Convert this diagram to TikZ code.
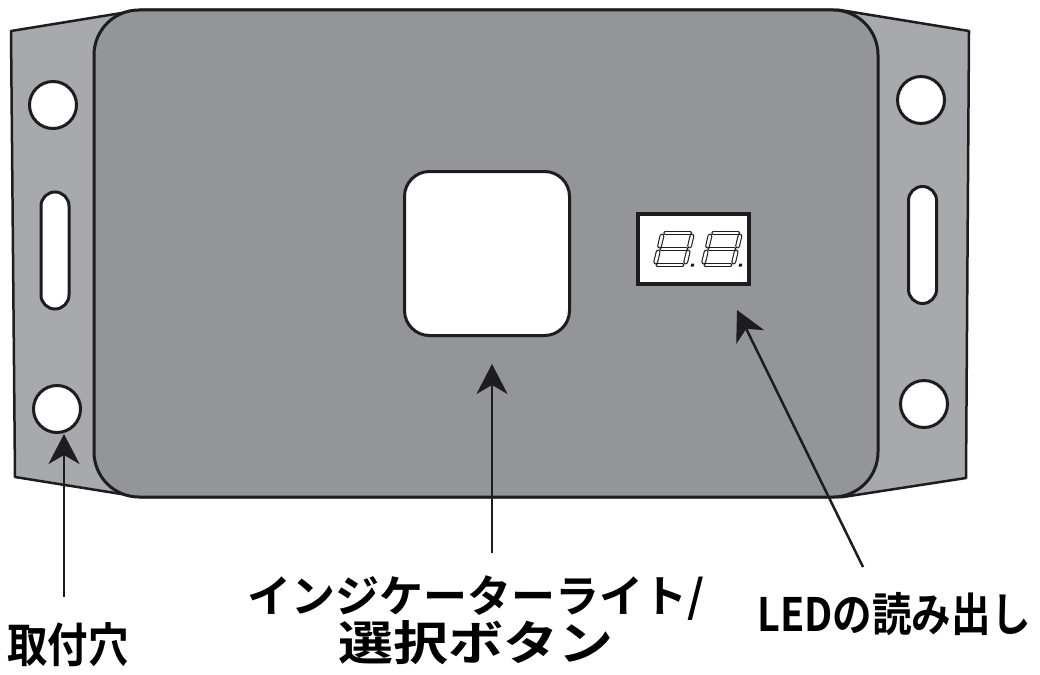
\documentclass[tikz,border=0pt]{standalone}
\usepackage{fontspec}
\newfontfamily\jpfont{Noto Sans CJK JP Bold}
\usetikzlibrary{arrows.meta}
\definecolor{bodygray}{RGB}{147,149,152}
\definecolor{flangegray}{RGB}{167,169,172}
\definecolor{inkline}{RGB}{30,28,30}
\begin{document}
\begin{tikzpicture}[x=1pt,y=-1pt,
  flange/.style={fill=flangegray, draw=inkline, line width=2.5pt, line join=round},
  housing/.style={fill=bodygray, draw=inkline, line width=3pt, rounded corners=45pt,
    minimum width=784pt, minimum height=487pt, inner sep=0pt},
  hole/.style={circle, fill=white, draw=inkline, line width=3pt, minimum size=47pt, inner sep=0pt},
  slot/.style={fill=white, draw=inkline, line width=3pt, rounded corners=14pt,
    minimum width=28pt, minimum height=117pt, inner sep=0pt},
  button/.style={fill=white, draw=inkline, line width=3pt, rounded corners=25pt,
    minimum width=165pt, minimum height=164pt, inner sep=0pt},
  display/.style={fill=white, draw=inkline, line width=4pt,
    minimum width=111pt, minimum height=70pt, inner sep=0pt},
  seg/.style={draw=inkline, line width=1.1pt, double=white, double distance=2.6pt, line cap=round},
  arr/.style={draw=inkline, line width=2.5pt, -{Stealth[length=30pt,width=31pt,inset=9pt]}},
  lbl/.style={font=\jpfont\fontsize{44}{49}\selectfont, align=center, inner sep=0pt, text=black}]
\useasboundingbox (0,0) rectangle (1040,674);

% mounting flanges behind the housing
\draw[flange] (11,31) -- (140,10) -- (840,10) -- (969,31) -- (966,478)
  -- (843,497) -- (140,497) -- (15,477) -- cycle;

% housing
\node[housing] (body) at (486,253.5) {};

% mounting holes and slots
\node[hole] (holeTL) at (53,105) {};
\node[hole] (holeBL) at (57,409) {};
\node[hole] (holeTR) at (921,100) {};
\node[hole] (holeBR) at (924,404) {};
\node[slot] (slotL) at (55,250.5) {};
\node[slot] (slotR) at (922.5,245) {};

% indicator light / select button
\node[button] (btn) at (487,253.5) {};

% LED readout with two seven-segment digits
\node[display] (led) at (693.5,249) {};
\foreach \dx in {655,703}{
  \begin{scope}[shift={(\dx,265)}, xslant=0.24]
    \draw[seg] (3,-32) -- (27,-32);   % a
    \draw[seg] (30,-29) -- (30,-19);  % b
    \draw[seg] (30,-13) -- (30,-3);   % c
    \draw[seg] (3,0) -- (27,0);       % d
    \draw[seg] (0,-3) -- (0,-13);     % e
    \draw[seg] (0,-19) -- (0,-29);    % f
    \draw[seg] (3,-16) -- (27,-16);   % g
    \fill[inkline] (36,-1.5) rectangle (39,1.5); % decimal point
  \end{scope}
}

% labels
\node[lbl] (lblMount) at (68,645)
  {\fontsize{47}{49}\selectfont\addfontfeatures{FakeStretch=0.86}取付穴};
\node[lbl] (lblBtn) at (476,620)
  {インジケーターライト/\\[-1pt]{\fontsize{47}{49}\selectfont\addfontfeatures{FakeStretch=1.17}選択ボタン}};
\node[lbl] (lblLed) at (894,614)
  {\fontsize{46}{49}\selectfont\addfontfeatures{FakeStretch=0.86}LEDの読み出し};

% leader arrows
\coordinate (tailMount) at (64,597);
\coordinate (tailBtn) at (492,553);
\coordinate (tailLed) at (863,567);
\coordinate (tipLed) at (737,310);
\draw[arr] (tailMount) -- (tailMount |- holeBL.south);
\draw[arr, shorten >=27pt] (tailBtn) -- (tailBtn |- btn.south);
\draw[arr] (tailLed) -- (tipLed);
\end{tikzpicture}
\end{document}
